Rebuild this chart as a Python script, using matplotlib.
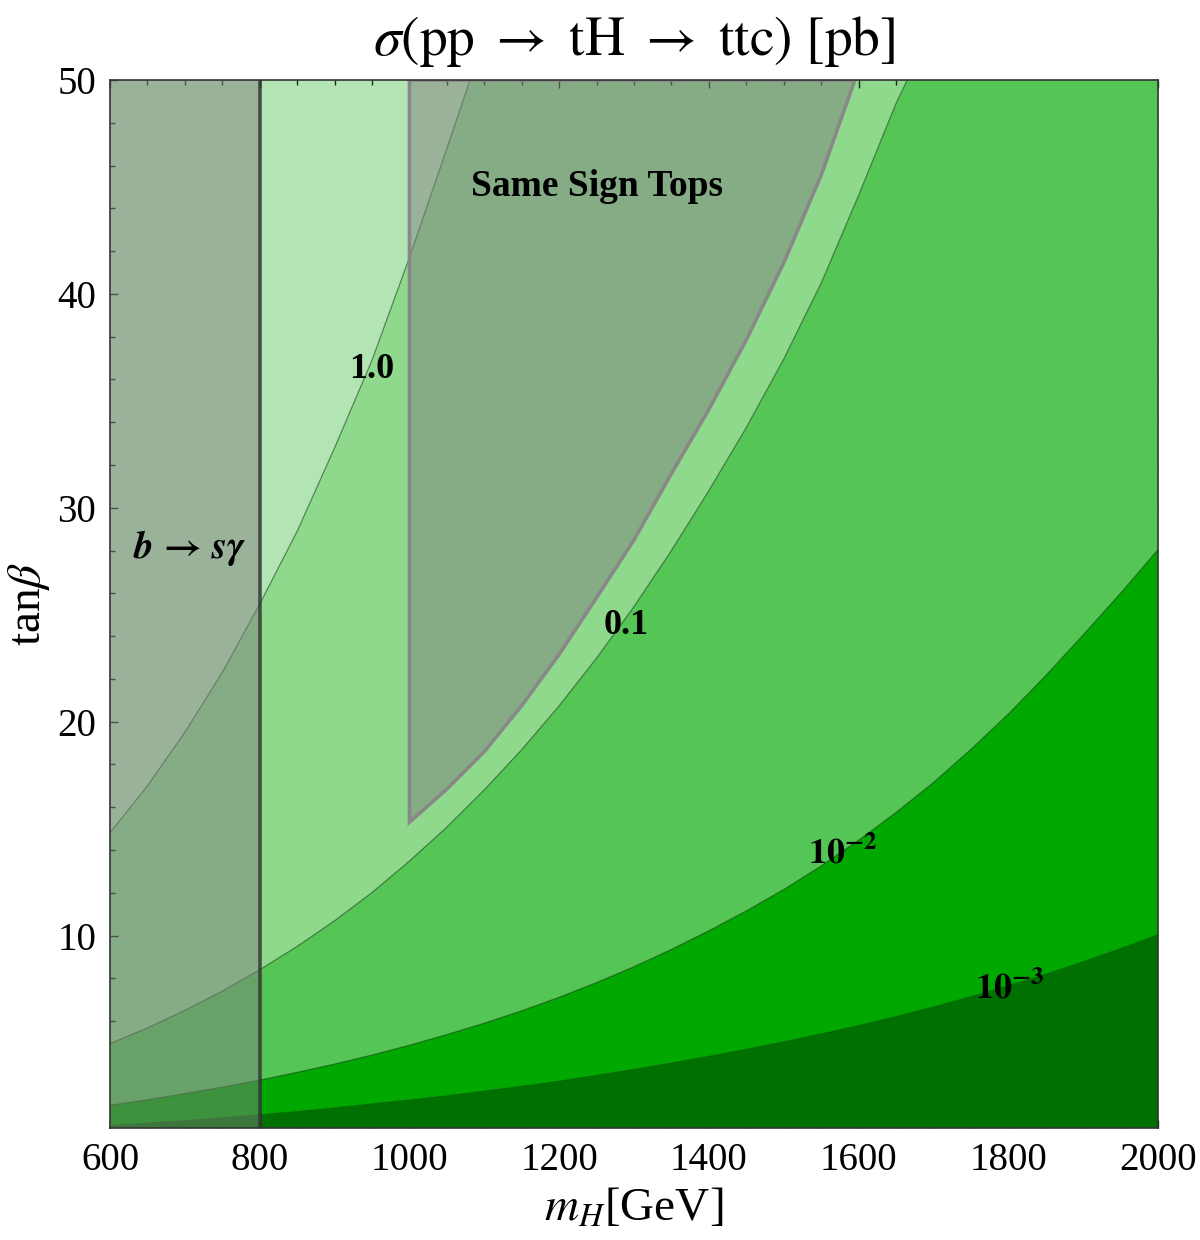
import numpy as np
import matplotlib
matplotlib.use('Agg')
import matplotlib.pyplot as plt
from matplotlib.ticker import MultipleLocator

plt.rcParams['font.family'] = ['Liberation Serif', 'DejaVu Serif']
plt.rcParams['mathtext.fontset'] = 'stix'

# axis range
mh_lim = [600, 2000]
tb_lim = [1, 50]

# iso-cross-section lines: (m_H [GeV], tan beta)
mh_1 = [600, 650, 700, 750, 800, 850, 900, 950, 1000, 1050, 1081]
tb_1 = [14.8, 17.0, 19.5, 22.3, 25.5, 28.9, 32.8, 36.9, 41.7, 46.8, 50]

mh_01 = [600, 650, 700, 750, 800, 850, 900, 950, 1000, 1050, 1100, 1150, 1200,
         1250, 1300, 1350, 1400, 1450, 1500, 1550, 1600, 1650, 1665]
tb_01 = [4.95, 5.68, 6.5, 7.4, 8.4, 9.49, 10.69, 12.01, 13.48, 15.07, 16.81, 18.69, 20.74,
         22.97, 25.38, 28.0, 30.8, 33.75, 36.95, 40.5, 44.6, 48.9, 50]

mh_001 = [600, 650, 700, 750, 800, 850, 900, 950, 1000, 1050, 1100, 1150, 1200, 1250,
          1300, 1350, 1400, 1450, 1500, 1550, 1600, 1650, 1700, 1750, 1800, 1850,
          1900, 1950, 2000]
tb_001 = [2.06, 2.32, 2.61, 2.91, 3.24, 3.6, 3.99, 4.41, 4.87, 5.37, 5.9, 6.48, 7.11, 7.8,
          8.54, 9.35, 10.22, 11.15, 12.15, 13.25, 14.45, 15.75, 17.15, 18.7, 20.35, 22.15,
          24.05, 26.0, 28.04]

mh_0001 = [600, 650, 700, 750, 800, 850, 900, 950, 1000, 1050, 1100, 1150, 1200, 1250,
           1300, 1350, 1400, 1450, 1500, 1550, 1600, 1650, 1700, 1750, 1800, 1850,
           1900, 1950, 2000]
tb_0001 = [1.12, 1.24, 1.36, 1.49, 1.63, 1.78, 1.95, 2.14, 2.32, 2.52, 2.74, 2.96, 3.2, 3.47,
           3.75, 4.05, 4.36, 4.69, 5.04, 5.41, 5.8, 6.22, 6.67, 7.15, 7.66, 8.2,
           8.78, 9.4, 10.05]

# excluded regions
bsg_mh = [600, 800]
mh_sst = [1000, 1000, 1050, 1100, 1150, 1200, 1250, 1300, 1350, 1400, 1450, 1500, 1550, 1595]
tb_sst = [50, 15.3, 16.85, 18.6, 20.75, 23.15, 25.8, 28.5, 31.6, 34.6, 37.85, 41.45, 45.55, 50]

band_colors = ['#b3e4b3', '#8fd98c', '#55c655', '#00a800', '#007000']
curves = [(mh_1, tb_1), (mh_01, tb_01), (mh_001, tb_001), (mh_0001, tb_0001)]

fig = plt.figure(figsize=(12, 12.4), dpi=100)
ax = fig.add_axes([0.0917, 0.0903, 0.8733, 0.8452])
ax.set_xlim(mh_lim)
ax.set_ylim(tb_lim)
ax.set_facecolor(band_colors[0])

# each band: everything right/below of the curve gets the next colour
for i, (mx, ty) in enumerate(curves):
    px = list(mx)
    py = list(ty)
    if py[-1] >= tb_lim[1]:
        px += [mh_lim[1]]
        py += [tb_lim[1]]
    px += [mh_lim[1], mh_lim[0]]
    py += [tb_lim[0], tb_lim[0]]
    ax.fill(px, py, color=band_colors[i + 1], lw=0, zorder=1 + i)

for i, (mx, ty) in enumerate(curves):
    a = 0.55 if i < 3 else 0.2
    ax.plot(mx, ty, color='#1a3a1a', lw=0.9, alpha=a, zorder=6)

grey = (0.494, 0.494, 0.494, 0.49)
ax.axvspan(bsg_mh[0], bsg_mh[1], facecolor=grey, edgecolor='none', zorder=7)
ax.axvline(bsg_mh[1], color='#303030', alpha=0.8, lw=2.6, zorder=8)
ax.fill(mh_sst, tb_sst, facecolor=grey, edgecolor='#888888', lw=2.6, zorder=7)

lab = dict(fontsize=26, fontweight='bold', ha='center', va='center', zorder=10)
ax.text(950, 36.45, '1.0', **lab)
ax.text(1289, 24.5, '0.1', **lab)
ax.text(1579, 13.8, r'$\mathbf{10^{-2}}$', **lab)
ax.text(1802, 7.5, r'$\mathbf{10^{-3}}$', **lab)
ax.text(1250, 45.0, 'Same Sign Tops', fontsize=27, fontweight='bold', ha='center', va='center', zorder=10)
ax.text(707, 28.1, r'$\mathbfit{b}\,\mathbf{\rightarrow}\,\mathbfit{s\gamma}$',
        fontsize=28, ha='center', va='center', zorder=10)

ax.xaxis.set_major_locator(MultipleLocator(200))
ax.xaxis.set_minor_locator(MultipleLocator(50))
ax.yaxis.set_major_locator(MultipleLocator(10))
ax.yaxis.set_minor_locator(MultipleLocator(2))
ax.tick_params(which='both', direction='in', top=True, right=True, labelsize=28, width=1.0, color='#222222')
ax.tick_params(which='major', length=6, pad=10)
ax.tick_params(which='minor', length=3.6)
for s in ax.spines.values():
    s.set_color('#333333')
    s.set_linewidth(1.2)
    s.set_zorder(11)

ax.set_title(r'$\sigma(\mathrm{pp}\ \rightarrow\ \mathrm{tH}\ \rightarrow\ \mathrm{ttc})\ [\mathrm{pb}]$',
             fontsize=40, y=1.0, pad=18)
ax.set_xlabel(r'$m_H$[GeV]', fontsize=34, labelpad=6)
ax.set_ylabel(r'tan$\beta$', fontsize=34, labelpad=4)

plt.savefig('out.png', dpi=100)
